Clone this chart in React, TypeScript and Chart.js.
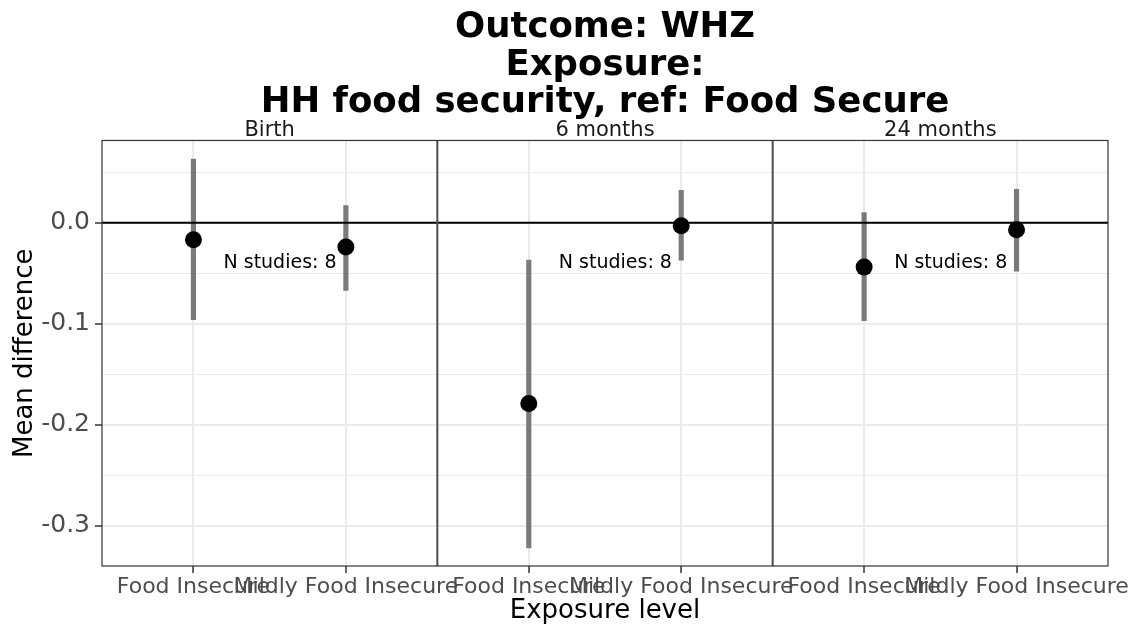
import React, { useEffect, useRef } from "react";
import { Chart, registerables } from "chart.js";

Chart.register(...registerables);

// ---- data ----
const timepoints = ["Birth", "6 months", "24 months"];
const exposureLevels = ["Food Insecure", "Mildly Food Insecure"];
const foodInsecureEst = [-0.017, -0.179, -0.044];
const foodInsecureLower = [-0.096, -0.322, -0.097];
const foodInsecureUpper = [0.063, -0.037, 0.010];
const mildlyEst = [-0.024, -0.003, -0.007];
const mildlyLower = [-0.067, -0.037, -0.048];
const mildlyUpper = [0.017, 0.032, 0.033];
const nStudies = [8, 8, 8];
const yTicksMajor = [-0.3, -0.2, -0.1, 0.0];
const yTicksMinor = [-0.25, -0.15, -0.05, 0.05];

// ---- layout constants (ggplot discrete scale: 2 levels + 0.6 expansion) ----
const PANEL = 2.2;
const LEVEL_OFFSET = 0.6;
const N_LABEL_X = 1.168;
const N_LABEL_Y = -0.0395;
const Y_MIN = -0.3399;
const Y_MAX = 0.0814;
const FONT = '"DejaVu Sans", "Liberation Sans", sans-serif';

const levelPos = (p: number, j: number) => p * PANEL + LEVEL_OFFSET + j;
const isMajor = (v: number) => yTicksMajor.some((m) => Math.abs(m - v) < 1e-9);

const xTickValues: number[] = [];
const xTickLabels: string[] = [];
timepoints.forEach((_, p) =>
  exposureLevels.forEach((lvl, j) => {
    xTickValues.push(levelPos(p, j));
    xTickLabels.push(lvl);
  })
);

const facetPlugin = {
  id: "facetDecor",
  afterDatasetsDraw(chart: any) {
    const { ctx, chartArea: ca, scales } = chart;
    const x = scales.x;
    const y = scales.y;
    ctx.save();
    // N studies text
    ctx.font = `19px ${FONT}`;
    ctx.fillStyle = "#000000";
    ctx.textAlign = "center";
    ctx.textBaseline = "middle";
    timepoints.forEach((_, p) => {
      ctx.fillText(
        `N studies: ${nStudies[p]}`,
        x.getPixelForValue(p * PANEL + N_LABEL_X),
        y.getPixelForValue(N_LABEL_Y)
      );
    });
    // panel dividers
    ctx.strokeStyle = "#4d4d4d";
    ctx.lineWidth = 2;
    for (let p = 1; p < timepoints.length; p++) {
      const px = x.getPixelForValue(p * PANEL);
      ctx.beginPath();
      ctx.moveTo(px, ca.top);
      ctx.lineTo(px, ca.bottom);
      ctx.stroke();
    }
    // outer border
    ctx.strokeStyle = "#333333";
    ctx.lineWidth = 1.2;
    ctx.strokeRect(ca.left, ca.top, ca.right - ca.left, ca.bottom - ca.top);
    // strip labels
    ctx.font = `21px ${FONT}`;
    ctx.fillStyle = "#1a1a1a";
    ctx.textBaseline = "alphabetic";
    timepoints.forEach((t, p) => {
      ctx.fillText(t, x.getPixelForValue(p * PANEL + PANEL / 2), ca.top - 4);
    });
    ctx.restore();
  },
};

export default function App() {
  const canvasRef = useRef<HTMLCanvasElement | null>(null);

  useEffect(() => {
    if (!canvasRef.current) return;
    const pointData: any[] = [];
    const barData: any[] = [];
    timepoints.forEach((_, p) => {
      pointData.push({ x: levelPos(p, 0), y: foodInsecureEst[p] });
      pointData.push({ x: levelPos(p, 1), y: mildlyEst[p] });
      barData.push({ x: levelPos(p, 0), y: [foodInsecureLower[p], foodInsecureUpper[p]] });
      barData.push({ x: levelPos(p, 1), y: [mildlyLower[p], mildlyUpper[p]] });
    });
    const xMax = timepoints.length * PANEL;

    const chart = new Chart(canvasRef.current, {
      type: "scatter",
      data: {
        datasets: [
          {
            type: "scatter",
            data: pointData,
            pointRadius: 8.5,
            pointHoverRadius: 8.5,
            backgroundColor: "#000000",
            borderWidth: 0,
            order: 0,
          } as any,
          {
            type: "line",
            data: [
              { x: 0, y: 0 },
              { x: xMax, y: 0 },
            ],
            borderColor: "#000000",
            borderWidth: 2,
            pointRadius: 0,
            order: 1,
          } as any,
          {
            type: "bar",
            data: barData,
            barThickness: 4.5,
            backgroundColor: "#7a7a7a",
            borderWidth: 0,
            order: 2,
          } as any,
        ],
      },
      options: {
        animation: false,
        responsive: false,
        events: [],
        layout: { padding: { left: 0, right: 20, top: 0, bottom: 0 } },
        plugins: {
          legend: { display: false },
          tooltip: { enabled: false },
          title: {
            display: true,
            fullSize: false,
            text: ["Outcome: WHZ", "Exposure:", "HH food security, ref: Food Secure"],
            color: "#000000",
            font: { family: FONT, size: 35.5, weight: "bold", lineHeight: 1.056 },
            padding: { top: 9.5, bottom: 18.5 },
          },
        },
        scales: {
          x: {
            type: "linear",
            min: 0,
            max: xMax,
            offset: false,
            border: { display: false },
            grid: {
              offset: false,
              color: "#EBEBEB",
              lineWidth: 2,
              tickLength: 7,
              tickColor: "#333333",
              tickWidth: 1.5,
            },
            ticks: {
              autoSkip: false,
              maxRotation: 0,
              minRotation: 0,
              padding: 1,
              color: "#4D4D4D",
              font: { family: FONT, size: 22 },
              callback: (v: any) => {
                const i = xTickValues.findIndex((t) => Math.abs(t - Number(v)) < 1e-6);
                return i >= 0 ? xTickLabels[i] : "";
              },
            },
            afterBuildTicks: (scale: any) => {
              scale.ticks = xTickValues.map((v) => ({ value: v }));
            },
            afterFit: (scale: any) => {
              scale.paddingLeft = 0;
              scale.paddingRight = 0;
              scale.height = 63;
            },
            title: {
              display: true,
              text: "Exposure level",
              color: "#000000",
              font: { family: FONT, size: 26 },
              padding: { top: 0, bottom: 1.7 },
            },
          },
          y: {
            type: "linear",
            min: Y_MIN,
            max: Y_MAX,
            border: { display: false },
            grid: {
              color: "#EBEBEB",
              lineWidth: (ctx: any) => (ctx.tick && isMajor(ctx.tick.value) ? 2 : 1),
              tickLength: 7,
              tickColor: (ctx: any) =>
                ctx.tick && isMajor(ctx.tick.value) ? "#333333" : "rgba(0,0,0,0)",
              tickWidth: 1.5,
            },
            ticks: {
              autoSkip: false,
              padding: 5,
              color: "#4D4D4D",
              font: { family: FONT, size: 25 },
              callback: (v: any) => (isMajor(Number(v)) ? Number(v).toFixed(1) : ""),
            },
            afterBuildTicks: (scale: any) => {
              scale.ticks = [...yTicksMajor, ...yTicksMinor]
                .sort((a, b) => a - b)
                .map((v) => ({ value: v }));
            },
            afterFit: (scale: any) => {
              scale.paddingTop = 0;
              scale.paddingBottom = 0;
              scale.width = 102;
            },
            title: {
              display: true,
              text: "Mean difference",
              color: "#000000",
              font: { family: FONT, size: 26 },
              padding: { top: 9.6, bottom: 0 },
            },
          },
        },
      },
      plugins: [facetPlugin],
    } as any);

    return () => chart.destroy();
  }, []);

  return (
    <div style={{ position: "absolute", left: 0, top: 0, width: 1128, height: 629, background: "#ffffff" }}>
      <canvas ref={canvasRef} width={1128} height={629} style={{ display: "block" }} />
    </div>
  );
}
